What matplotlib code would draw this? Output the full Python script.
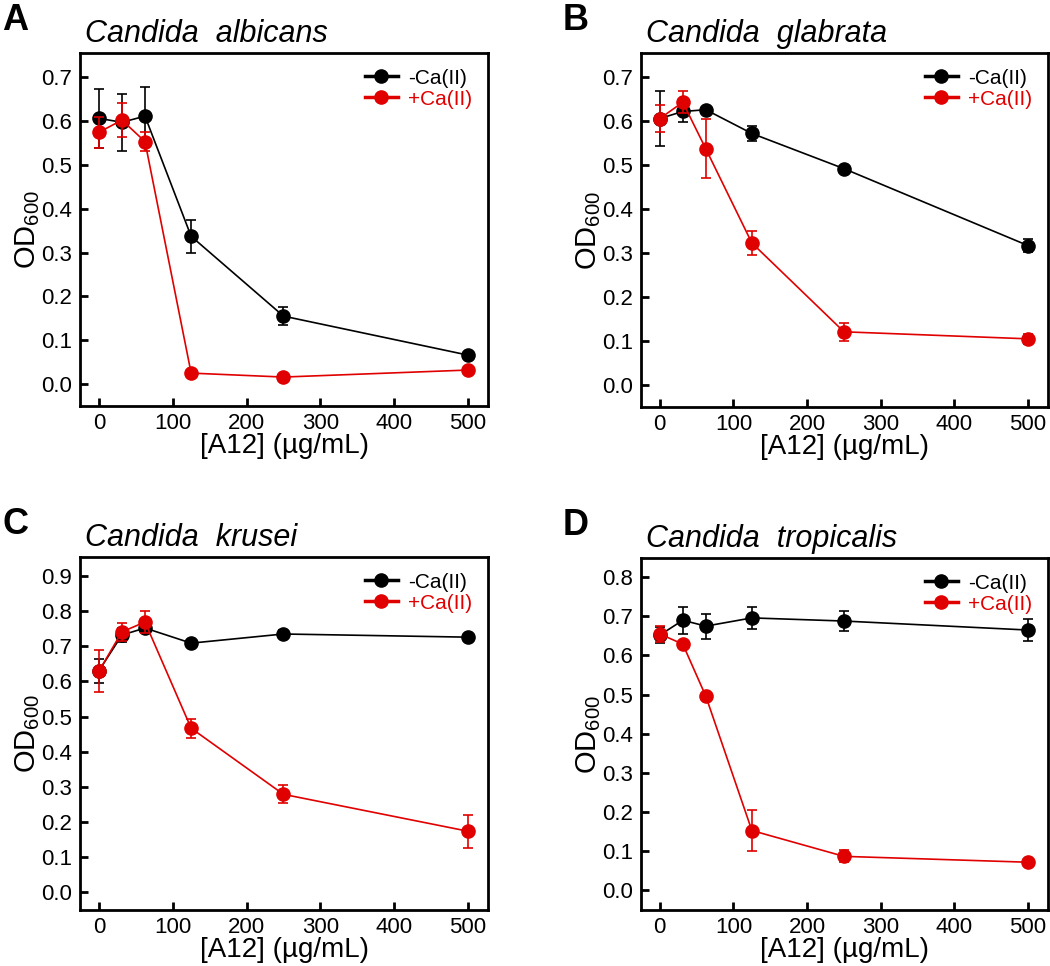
import numpy as np
import matplotlib.pyplot as plt
from matplotlib.lines import Line2D

plt.rcParams['font.family'] = ['Liberation Sans', 'DejaVu Sans']
plt.rcParams['mathtext.default'] = 'regular'

# concentrations A12 (ug/mL)
conc = [0, 31.25, 62.5, 125, 250, 500]

# Candida albicans
alb_noCa = [0.606, 0.597, 0.611, 0.337, 0.155, 0.066]
alb_noCa_err = [0.068, 0.065, 0.066, 0.038, 0.021, 0.005]
alb_Ca = [0.574, 0.602, 0.553, 0.025, 0.016, 0.032]
alb_Ca_err = [0.035, 0.038, 0.022, 0.004, 0.003, 0.004]

# Candida glabrata
gla_noCa = [0.606, 0.622, 0.626, 0.572, 0.492, 0.317]
gla_noCa_err = [0.062, 0.025, 0.006, 0.018, 0.006, 0.015]
gla_Ca = [0.606, 0.643, 0.537, 0.323, 0.121, 0.105]
gla_Ca_err = [0.030, 0.025, 0.067, 0.028, 0.021, 0.012]

# Candida krusei
kru_noCa = [0.630, 0.732, 0.752, 0.709, 0.735, 0.726]
kru_noCa_err = [0.035, 0.020, 0.008, 0.010, 0.012, 0.006]
kru_Ca = [0.629, 0.741, 0.769, 0.467, 0.279, 0.174]
kru_Ca_err = [0.060, 0.025, 0.030, 0.027, 0.026, 0.047]

# Candida tropicalis
tro_noCa = [0.652, 0.690, 0.675, 0.696, 0.688, 0.665]
tro_noCa_err = [0.020, 0.035, 0.032, 0.028, 0.025, 0.028]
tro_Ca = [0.655, 0.629, 0.496, 0.153, 0.087, 0.072]
tro_Ca_err = [0.020, 0.005, 0.005, 0.053, 0.015, 0.004]

titles = ['Candida  albicans', 'Candida  glabrata', 'Candida  krusei', 'Candida  tropicalis']
letters = ['A', 'B', 'C', 'D']
ytops = [0.755, 0.755, 0.954, 0.849]
yticks = [np.arange(0, 0.71, 0.1), np.arange(0, 0.71, 0.1),
          np.arange(0, 0.91, 0.1), np.arange(0, 0.81, 0.1)]
series = [(alb_noCa, alb_noCa_err, alb_Ca, alb_Ca_err),
          (gla_noCa, gla_noCa_err, gla_Ca, gla_Ca_err),
          (kru_noCa, kru_noCa_err, kru_Ca, kru_Ca_err),
          (tro_noCa, tro_noCa_err, tro_Ca, tro_Ca_err)]

W, H = 1050, 966
# axes boxes in pixels: left, top, right, bottom
boxes = [(80, 53, 488, 406), (641, 53, 1048, 407),
         (80, 557, 488, 910), (641, 558, 1048, 910)]

red = '#e00000'
fig = plt.figure(figsize=(W/100, H/100), dpi=100)

for i in range(4):
    l, t, r, b = boxes[i]
    ax = fig.add_axes([l/W, 1-b/H, (r-l)/W, (b-t)/H])
    m0, e0, m1, e1 = series[i]
    ax.errorbar(conc, m0, yerr=e0, color='k', lw=1.2, marker='o', ms=9.5,
                elinewidth=1.2, capsize=3.5, capthick=1.2, zorder=2)
    ax.errorbar(conc, m1, yerr=e1, color=red, lw=1.2, marker='o', ms=9.5,
                elinewidth=1.2, capsize=3.5, capthick=1.2, zorder=3)

    ax.set_xlim(-25.5, 527)
    ax.set_ylim(-0.05, ytops[i])
    ax.set_xticks([0, 100, 200, 300, 400, 500])
    ax.set_yticks(yticks[i])
    ax.set_yticklabels(['%.1f' % v for v in yticks[i]])
    ax.tick_params(direction='in', length=6, width=2, labelsize=16, pad=6)
    ax.tick_params(axis='x', pad=5)
    for s in ax.spines.values():
        s.set_linewidth(2)

    ax.set_xlabel('[A12] (µg/mL)', fontsize=20, labelpad=-1)
    ax.set_ylabel('OD$_{600}$', fontsize=21)
    ax.yaxis.set_label_coords(-0.093, 0.5)

    ax.text(0.012, 1.03, titles[i], transform=ax.transAxes, fontsize=22,
            style='italic', ha='left', va='baseline')
    fig.text((l-78)/W, 1-(t-23)/H, letters[i],
             fontsize=26, fontweight='bold', ha='left', va='baseline')

    handles = [Line2D([], [], color='k', lw=2.5, marker='o', ms=9.5),
               Line2D([], [], color=red, lw=2.5, marker='o', ms=9.5)]
    ax.legend(handles, ['-Ca(II)', '+Ca(II)'], loc='upper right', frameon=False,
              fontsize=15, labelcolor=['k', red], handlelength=1.6,
              handletextpad=0.5, labelspacing=0.1, borderaxespad=0.35)

plt.savefig('out.png', dpi=100)
